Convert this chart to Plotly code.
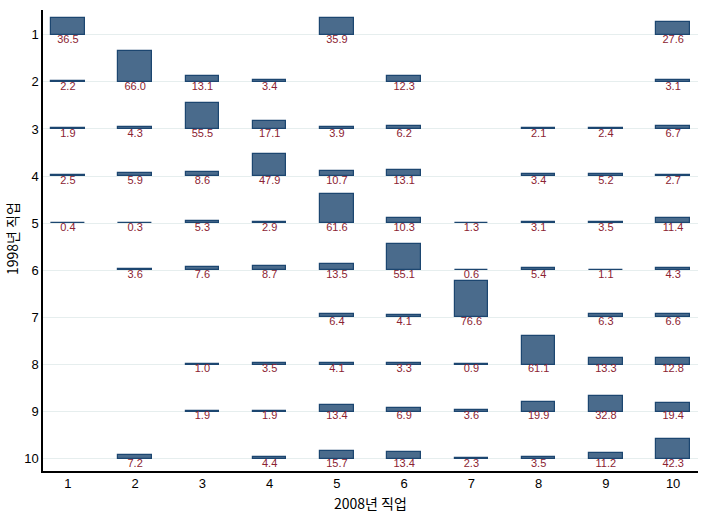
import plotly.graph_objects as go

jobs = list(range(1, 11))
tick_labels = [str(j) for j in jobs]

# transition percentages: rows = 1998 job, columns = 2008 job (None = empty)
row1 = [36.5, None, None, None, 35.9, None, None, None, None, 27.6]
row2 = [2.2, 66.0, 13.1, 3.4, None, 12.3, None, None, None, 3.1]
row3 = [1.9, 4.3, 55.5, 17.1, 3.9, 6.2, None, 2.1, 2.4, 6.7]
row4 = [2.5, 5.9, 8.6, 47.9, 10.7, 13.1, None, 3.4, 5.2, 2.7]
row5 = [0.4, 0.3, 5.3, 2.9, 61.6, 10.3, 1.3, 3.1, 3.5, 11.4]
row6 = [None, 3.6, 7.6, 8.7, 13.5, 55.1, 0.6, 5.4, 1.1, 4.3]
row7 = [None, None, None, None, 6.4, 4.1, 76.6, None, 6.3, 6.6]
row8 = [None, None, 1.0, 3.5, 4.1, 3.3, 0.9, 61.1, 13.3, 12.8]
row9 = [None, None, 1.9, 1.9, 13.4, 6.9, 3.6, 19.9, 32.8, 19.4]
row10 = [None, 7.2, None, 4.4, 15.7, 13.4, 2.3, 3.5, 11.2, 42.3]
rows = [row1, row2, row3, row4, row5, row6, row7, row8, row9, row10]

x_title = "2008년 직업"
y_title = "1998년 직업"

xs, bases, heights, labels, label_y = [], [], [], [], []
for r, vals in zip(jobs, rows):
    for c, v in zip(jobs, vals):
        if v is None:
            continue
        xs.append(c)
        bases.append(r)
        heights.append(-v / 100.0)
        labels.append(f"{v:.1f}")
        label_y.append(r + 0.107)

fig = go.Figure()
fig.add_trace(go.Bar(
    x=xs, y=heights, base=bases, width=0.5,
    marker=dict(color="#4a6b8c", line=dict(color="#1c4670", width=1.2)),
    hoverinfo="skip", showlegend=False,
))
fig.add_trace(go.Scatter(
    x=xs, y=label_y, mode="text", text=labels,
    textposition="middle center",
    textfont=dict(family="Liberation Sans, Arial", size=11, color="#8b2332"),
    hoverinfo="skip", showlegend=False,
))

L, R, T, B = 43, 10, 10, 42
W, H = 708, 513
pw, ph = W - L - R, H - T - B

fig.update_layout(
    width=W, height=H,
    margin=dict(l=L, r=R, t=T, b=B, autoexpand=False),
    plot_bgcolor="white", paper_bgcolor="white",
    font=dict(family="Liberation Sans, Arial", color="black"),
    bargap=0,
    annotations=[
        dict(text=x_title, xref="paper", yref="paper",
             x=(370 - L) / pw, y=-(503 - (T + ph)) / ph,
             showarrow=False, xanchor="center", yanchor="middle",
             font=dict(family="Noto Sans CJK KR, Liberation Sans", size=14, color="black")),
        dict(text=y_title, xref="paper", yref="paper",
             x=(12 - L) / pw, y=1 - (239 - T) / ph, textangle=-90,
             showarrow=False, xanchor="center", yanchor="middle",
             font=dict(family="Noto Sans CJK KR, Liberation Sans", size=14, color="black")),
    ],
)
fig.update_xaxes(
    range=[0.63, 10.37], tickvals=jobs, ticktext=tick_labels, automargin=False,
    showgrid=False, zeroline=False, showline=True, linecolor="black", linewidth=1.5,
    tickfont=dict(size=13), ticklabelstandoff=0,
)
fig.update_yaxes(
    range=[10.26, 0.475], tickvals=jobs, ticktext=tick_labels, automargin=False,
    showgrid=True, gridcolor="#e6eeee", gridwidth=1,
    zeroline=False, showline=True, linecolor="black", linewidth=1.5,
    tickfont=dict(size=13), ticklabelstandoff=0,
)

fig.write_html(
    "out.html",
    config={"displayModeBar": False},
    post_script="document.body.style.margin='0';document.body.style.overflow='hidden';",
)
